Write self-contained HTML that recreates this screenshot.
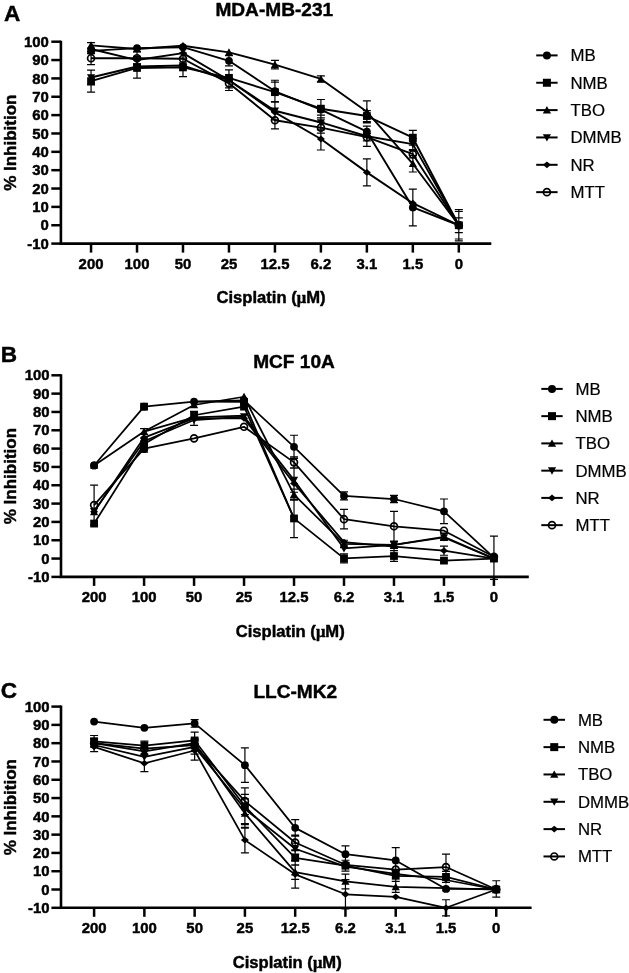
<!DOCTYPE html>
<html><head><meta charset="utf-8"><title>Figure</title>
<style>html,body{margin:0;padding:0;background:#fff}svg{display:block}</style></head>
<body>
<svg width="629" height="973" viewBox="0 0 629 973" font-family='"Liberation Sans", Arial, Helvetica, sans-serif' fill="#000"><style>text{stroke:#000;stroke-width:0.45px;stroke-linejoin:round}text.lg{stroke-width:0.2px}</style>
<text x="4.0" y="20.6" font-size="22.6" font-weight="bold">A</text>
<text x="274.3" y="16.2" font-size="19.1" font-weight="bold" text-anchor="middle">MDA-MB-231</text>
<path d="M60.9 40.7 V243.6 H491.3" fill="none" stroke="#000" stroke-width="2.6" stroke-linejoin="miter"/>
<line x1="51.3" y1="243.60" x2="60.9" y2="243.60" stroke="#000" stroke-width="2.5"/>
<text x="48.9" y="248.75" font-size="14.9" font-weight="bold" text-anchor="end">-10</text>
<line x1="51.3" y1="225.25" x2="60.9" y2="225.25" stroke="#000" stroke-width="2.5"/>
<text x="48.9" y="230.40" font-size="14.9" font-weight="bold" text-anchor="end">0</text>
<line x1="51.3" y1="206.89" x2="60.9" y2="206.89" stroke="#000" stroke-width="2.5"/>
<text x="48.9" y="212.04" font-size="14.9" font-weight="bold" text-anchor="end">10</text>
<line x1="51.3" y1="188.54" x2="60.9" y2="188.54" stroke="#000" stroke-width="2.5"/>
<text x="48.9" y="193.69" font-size="14.9" font-weight="bold" text-anchor="end">20</text>
<line x1="51.3" y1="170.18" x2="60.9" y2="170.18" stroke="#000" stroke-width="2.5"/>
<text x="48.9" y="175.33" font-size="14.9" font-weight="bold" text-anchor="end">30</text>
<line x1="51.3" y1="151.83" x2="60.9" y2="151.83" stroke="#000" stroke-width="2.5"/>
<text x="48.9" y="156.98" font-size="14.9" font-weight="bold" text-anchor="end">40</text>
<line x1="51.3" y1="133.47" x2="60.9" y2="133.47" stroke="#000" stroke-width="2.5"/>
<text x="48.9" y="138.62" font-size="14.9" font-weight="bold" text-anchor="end">50</text>
<line x1="51.3" y1="115.12" x2="60.9" y2="115.12" stroke="#000" stroke-width="2.5"/>
<text x="48.9" y="120.27" font-size="14.9" font-weight="bold" text-anchor="end">60</text>
<line x1="51.3" y1="96.76" x2="60.9" y2="96.76" stroke="#000" stroke-width="2.5"/>
<text x="48.9" y="101.91" font-size="14.9" font-weight="bold" text-anchor="end">70</text>
<line x1="51.3" y1="78.41" x2="60.9" y2="78.41" stroke="#000" stroke-width="2.5"/>
<text x="48.9" y="83.56" font-size="14.9" font-weight="bold" text-anchor="end">80</text>
<line x1="51.3" y1="60.05" x2="60.9" y2="60.05" stroke="#000" stroke-width="2.5"/>
<text x="48.9" y="65.20" font-size="14.9" font-weight="bold" text-anchor="end">90</text>
<line x1="51.3" y1="41.70" x2="60.9" y2="41.70" stroke="#000" stroke-width="2.5"/>
<text x="48.9" y="46.85" font-size="14.9" font-weight="bold" text-anchor="end">100</text>
<line x1="91.05" y1="243.6" x2="91.05" y2="252.6" stroke="#000" stroke-width="2.5"/>
<text x="91.05" y="268.50" font-size="14.9" font-weight="bold" text-anchor="middle">200</text>
<line x1="137.02" y1="243.6" x2="137.02" y2="252.6" stroke="#000" stroke-width="2.5"/>
<text x="137.02" y="268.50" font-size="14.9" font-weight="bold" text-anchor="middle">100</text>
<line x1="182.99" y1="243.6" x2="182.99" y2="252.6" stroke="#000" stroke-width="2.5"/>
<text x="182.99" y="268.50" font-size="14.9" font-weight="bold" text-anchor="middle">50</text>
<line x1="228.96" y1="243.6" x2="228.96" y2="252.6" stroke="#000" stroke-width="2.5"/>
<text x="228.96" y="268.50" font-size="14.9" font-weight="bold" text-anchor="middle">25</text>
<line x1="274.93" y1="243.6" x2="274.93" y2="252.6" stroke="#000" stroke-width="2.5"/>
<text x="274.93" y="268.50" font-size="14.9" font-weight="bold" text-anchor="middle">12.5</text>
<line x1="320.90" y1="243.6" x2="320.90" y2="252.6" stroke="#000" stroke-width="2.5"/>
<text x="320.90" y="268.50" font-size="14.9" font-weight="bold" text-anchor="middle">6.2</text>
<line x1="366.87" y1="243.6" x2="366.87" y2="252.6" stroke="#000" stroke-width="2.5"/>
<text x="366.87" y="268.50" font-size="14.9" font-weight="bold" text-anchor="middle">3.1</text>
<line x1="412.84" y1="243.6" x2="412.84" y2="252.6" stroke="#000" stroke-width="2.5"/>
<text x="412.84" y="268.50" font-size="14.9" font-weight="bold" text-anchor="middle">1.5</text>
<line x1="458.81" y1="243.6" x2="458.81" y2="252.6" stroke="#000" stroke-width="2.5"/>
<text x="458.81" y="268.50" font-size="14.9" font-weight="bold" text-anchor="middle">0</text>
<text transform="translate(16,142.7) rotate(-90)" font-size="17" font-weight="bold" text-anchor="middle">% Inhibition</text>
<text x="271" y="303.4" font-size="16.6" font-weight="bold" text-anchor="middle">Cisplatin (<tspan font-family="'Liberation Serif', serif">μ</tspan>M)</text>
<path d="M91.05 48.12V53.63M87.05 48.12h8M87.05 53.63h8M228.96 55.65V65.93M224.96 55.65h8M224.96 65.93h8M274.93 80.24V102.27M270.93 80.24h8M270.93 102.27h8M366.87 126.13V137.14M362.87 126.13h8M362.87 137.14h8M412.84 189.09V225.80M408.84 189.09h8M408.84 225.80h8M458.81 209.64V240.85M454.81 209.64h8M454.81 240.85h8M91.05 70.15V92.17M87.05 70.15h8M87.05 92.17h8M137.02 57.85V78.04M133.02 57.85h8M133.02 78.04h8M182.99 58.22V76.57M178.99 58.22h8M178.99 76.57h8M274.93 82.08V102.27M270.93 82.08h8M270.93 102.27h8M320.90 99.52V117.87M316.90 99.52h8M316.90 117.87h8M366.87 110.53V121.54M362.87 110.53h8M362.87 121.54h8M412.84 130.35V145.04M408.84 130.35h8M408.84 145.04h8M458.81 211.48V239.01M454.81 211.48h8M454.81 239.01h8M91.05 42.62V48.12M87.05 42.62h8M87.05 48.12h8M274.93 60.42V68.86M270.93 60.42h8M270.93 68.86h8M320.90 75.84V82.08M316.90 75.84h8M316.90 82.08h8M366.87 100.80V122.83M362.87 100.80h8M362.87 122.83h8M412.84 155.50V172.02M408.84 155.50h8M408.84 172.02h8M458.81 217.90V232.59M454.81 217.90h8M454.81 232.59h8M91.05 70.15V84.83M87.05 70.15h8M87.05 84.83h8M228.96 69.97V90.52M224.96 69.97h8M224.96 90.52h8M274.93 101.54V119.89M270.93 101.54h8M270.93 119.89h8M320.90 115.12V129.80M316.90 115.12h8M316.90 129.80h8M366.87 126.13V146.32M362.87 126.13h8M362.87 146.32h8M412.84 138.61V149.62M408.84 138.61h8M408.84 149.62h8M137.02 56.38V63.73M133.02 56.38h8M133.02 63.73h8M320.90 127.97V149.99M316.90 127.97h8M316.90 149.99h8M366.87 158.80V185.97M362.87 158.80h8M362.87 185.97h8M91.05 51.80V64.64M87.05 51.80h8M87.05 64.64h8M137.02 51.80V64.64M133.02 51.80h8M133.02 64.64h8M182.99 53.26V64.28M178.99 53.26h8M178.99 64.28h8M228.96 78.78V87.95M224.96 78.78h8M224.96 87.95h8M274.93 111.63V128.88M270.93 111.63h8M270.93 128.88h8M320.90 122.09V133.11M316.90 122.09h8M316.90 133.11h8M366.87 133.47V140.81M362.87 133.47h8M362.87 140.81h8M412.84 150.54V157.88M408.84 150.54h8M408.84 157.88h8" fill="none" stroke="#000" stroke-width="1.2"/>
<polyline points="91.05,50.88 137.02,48.12 182.99,47.21 228.96,60.79 274.93,91.26 320.90,109.61 366.87,131.64 412.84,207.44 458.81,225.25" fill="none" stroke="#000" stroke-width="1.9" stroke-linejoin="round"/>
<polyline points="91.05,81.16 137.02,67.95 182.99,67.40 228.96,77.86 274.93,92.17 320.90,108.69 366.87,116.04 412.84,137.69 458.81,225.25" fill="none" stroke="#000" stroke-width="1.9" stroke-linejoin="round"/>
<polyline points="91.05,45.37 137.02,49.04 182.99,45.74 228.96,52.35 274.93,64.64 320.90,78.96 366.87,111.81 412.84,163.76 458.81,225.25" fill="none" stroke="#000" stroke-width="1.9" stroke-linejoin="round"/>
<polyline points="91.05,77.49 137.02,66.48 182.99,65.56 228.96,80.24 274.93,110.71 320.90,122.46 366.87,136.23 412.84,144.12 458.81,225.25" fill="none" stroke="#000" stroke-width="1.9" stroke-linejoin="round"/>
<polyline points="91.05,49.04 137.02,60.05 182.99,53.08 228.96,80.24 274.93,112.36 320.90,138.98 366.87,172.38 412.84,203.22 458.81,225.25" fill="none" stroke="#000" stroke-width="1.9" stroke-linejoin="round"/>
<polyline points="91.05,58.22 137.02,58.22 182.99,58.77 228.96,83.36 274.93,120.26 320.90,127.60 366.87,137.14 412.84,154.21 458.81,225.25" fill="none" stroke="#000" stroke-width="1.9" stroke-linejoin="round"/>
<circle cx="91.05" cy="58.22" r="3.45" fill="none" stroke="#000" stroke-width="1.7"/>
<circle cx="137.02" cy="58.22" r="3.45" fill="none" stroke="#000" stroke-width="1.7"/>
<circle cx="182.99" cy="58.77" r="3.45" fill="none" stroke="#000" stroke-width="1.7"/>
<circle cx="228.96" cy="83.36" r="3.45" fill="none" stroke="#000" stroke-width="1.7"/>
<circle cx="274.93" cy="120.26" r="3.45" fill="none" stroke="#000" stroke-width="1.7"/>
<circle cx="320.90" cy="127.60" r="3.45" fill="none" stroke="#000" stroke-width="1.7"/>
<circle cx="366.87" cy="137.14" r="3.45" fill="none" stroke="#000" stroke-width="1.7"/>
<circle cx="412.84" cy="154.21" r="3.45" fill="none" stroke="#000" stroke-width="1.7"/>
<circle cx="458.81" cy="225.25" r="3.45" fill="none" stroke="#000" stroke-width="1.7"/>
<polygon points="91.05,45.64 95.05,49.04 91.05,52.44 87.05,49.04" fill="#000"/>
<polygon points="137.02,56.65 141.02,60.05 137.02,63.45 133.02,60.05" fill="#000"/>
<polygon points="182.99,49.68 186.99,53.08 182.99,56.48 178.99,53.08" fill="#000"/>
<polygon points="228.96,76.84 232.96,80.24 228.96,83.64 224.96,80.24" fill="#000"/>
<polygon points="274.93,108.96 278.93,112.36 274.93,115.77 270.93,112.36" fill="#000"/>
<polygon points="320.90,135.58 324.90,138.98 320.90,142.38 316.90,138.98" fill="#000"/>
<polygon points="366.87,168.98 370.87,172.38 366.87,175.78 362.87,172.38" fill="#000"/>
<polygon points="412.84,199.82 416.84,203.22 412.84,206.62 408.84,203.22" fill="#000"/>
<polygon points="458.81,221.85 462.81,225.25 458.81,228.65 454.81,225.25" fill="#000"/>
<polygon points="91.05,81.49 95.15,74.19 86.95,74.19" fill="#000"/>
<polygon points="137.02,70.48 141.12,63.18 132.92,63.18" fill="#000"/>
<polygon points="182.99,69.56 187.09,62.26 178.89,62.26" fill="#000"/>
<polygon points="228.96,84.24 233.06,76.94 224.86,76.94" fill="#000"/>
<polygon points="274.93,114.71 279.03,107.41 270.83,107.41" fill="#000"/>
<polygon points="320.90,126.46 325.00,119.16 316.80,119.16" fill="#000"/>
<polygon points="366.87,140.23 370.97,132.93 362.77,132.93" fill="#000"/>
<polygon points="412.84,148.12 416.94,140.82 408.74,140.82" fill="#000"/>
<polygon points="458.81,229.25 462.91,221.95 454.71,221.95" fill="#000"/>
<polygon points="91.05,41.37 95.15,48.67 86.95,48.67" fill="#000"/>
<polygon points="137.02,45.04 141.12,52.34 132.92,52.34" fill="#000"/>
<polygon points="182.99,41.74 187.09,49.04 178.89,49.04" fill="#000"/>
<polygon points="228.96,48.35 233.06,55.65 224.86,55.65" fill="#000"/>
<polygon points="274.93,60.64 279.03,67.94 270.83,67.94" fill="#000"/>
<polygon points="320.90,74.96 325.00,82.26 316.80,82.26" fill="#000"/>
<polygon points="366.87,107.81 370.97,115.11 362.77,115.11" fill="#000"/>
<polygon points="412.84,159.76 416.94,167.06 408.74,167.06" fill="#000"/>
<polygon points="458.81,221.25 462.91,228.55 454.71,228.55" fill="#000"/>
<rect x="87.15" y="77.26" width="7.80" height="7.80" fill="#000"/>
<rect x="133.12" y="64.05" width="7.80" height="7.80" fill="#000"/>
<rect x="179.09" y="63.50" width="7.80" height="7.80" fill="#000"/>
<rect x="225.06" y="73.96" width="7.80" height="7.80" fill="#000"/>
<rect x="271.03" y="88.27" width="7.80" height="7.80" fill="#000"/>
<rect x="317.00" y="104.79" width="7.80" height="7.80" fill="#000"/>
<rect x="362.97" y="112.14" width="7.80" height="7.80" fill="#000"/>
<rect x="408.94" y="133.79" width="7.80" height="7.80" fill="#000"/>
<rect x="454.91" y="221.35" width="7.80" height="7.80" fill="#000"/>
<circle cx="91.05" cy="50.88" r="3.90" fill="#000"/>
<circle cx="137.02" cy="48.12" r="3.90" fill="#000"/>
<circle cx="182.99" cy="47.21" r="3.90" fill="#000"/>
<circle cx="228.96" cy="60.79" r="3.90" fill="#000"/>
<circle cx="274.93" cy="91.26" r="3.90" fill="#000"/>
<circle cx="320.90" cy="109.61" r="3.90" fill="#000"/>
<circle cx="366.87" cy="131.64" r="3.90" fill="#000"/>
<circle cx="412.84" cy="207.44" r="3.90" fill="#000"/>
<circle cx="458.81" cy="225.25" r="3.90" fill="#000"/>
<line x1="536.2" y1="55.40" x2="557.6" y2="55.40" stroke="#000" stroke-width="2"/>
<circle cx="546.90" cy="55.40" r="4.00" fill="#000"/>
<text class="lg" x="570.5" y="61.40" font-size="16.8">MB</text>
<line x1="536.2" y1="82.75" x2="557.6" y2="82.75" stroke="#000" stroke-width="2"/>
<rect x="542.90" y="78.75" width="8.00" height="8.00" fill="#000"/>
<text class="lg" x="570.5" y="88.75" font-size="16.8">NMB</text>
<line x1="536.2" y1="110.10" x2="557.6" y2="110.10" stroke="#000" stroke-width="2"/>
<polygon points="546.90,106.10 551.00,113.40 542.80,113.40" fill="#000"/>
<text class="lg" x="570.5" y="116.10" font-size="16.8">TBO</text>
<line x1="536.2" y1="137.45" x2="557.6" y2="137.45" stroke="#000" stroke-width="2"/>
<polygon points="546.90,141.45 551.00,134.15 542.80,134.15" fill="#000"/>
<text class="lg" x="570.5" y="143.45" font-size="16.8">DMMB</text>
<line x1="536.2" y1="164.80" x2="557.6" y2="164.80" stroke="#000" stroke-width="2"/>
<polygon points="546.90,161.40 550.90,164.80 546.90,168.20 542.90,164.80" fill="#000"/>
<text class="lg" x="570.5" y="170.80" font-size="16.8">NR</text>
<line x1="536.2" y1="192.15" x2="557.6" y2="192.15" stroke="#000" stroke-width="2"/>
<circle cx="546.90" cy="192.15" r="3.45" fill="none" stroke="#000" stroke-width="1.7"/>
<text class="lg" x="570.5" y="198.15" font-size="16.8">MTT</text>
<text x="0.8" y="362" font-size="22.6" font-weight="bold">B</text>
<text x="294" y="368" font-size="19.1" font-weight="bold" text-anchor="middle">MCF 10A</text>
<path d="M61 374.3 V576.9 H528.8" fill="none" stroke="#000" stroke-width="2.6" stroke-linejoin="miter"/>
<line x1="51.4" y1="576.90" x2="61" y2="576.90" stroke="#000" stroke-width="2.5"/>
<text x="49.6" y="582.05" font-size="14.9" font-weight="bold" text-anchor="end">-10</text>
<line x1="51.4" y1="558.57" x2="61" y2="558.57" stroke="#000" stroke-width="2.5"/>
<text x="49.6" y="563.72" font-size="14.9" font-weight="bold" text-anchor="end">0</text>
<line x1="51.4" y1="540.25" x2="61" y2="540.25" stroke="#000" stroke-width="2.5"/>
<text x="49.6" y="545.40" font-size="14.9" font-weight="bold" text-anchor="end">10</text>
<line x1="51.4" y1="521.92" x2="61" y2="521.92" stroke="#000" stroke-width="2.5"/>
<text x="49.6" y="527.07" font-size="14.9" font-weight="bold" text-anchor="end">20</text>
<line x1="51.4" y1="503.59" x2="61" y2="503.59" stroke="#000" stroke-width="2.5"/>
<text x="49.6" y="508.74" font-size="14.9" font-weight="bold" text-anchor="end">30</text>
<line x1="51.4" y1="485.26" x2="61" y2="485.26" stroke="#000" stroke-width="2.5"/>
<text x="49.6" y="490.41" font-size="14.9" font-weight="bold" text-anchor="end">40</text>
<line x1="51.4" y1="466.94" x2="61" y2="466.94" stroke="#000" stroke-width="2.5"/>
<text x="49.6" y="472.09" font-size="14.9" font-weight="bold" text-anchor="end">50</text>
<line x1="51.4" y1="448.61" x2="61" y2="448.61" stroke="#000" stroke-width="2.5"/>
<text x="49.6" y="453.76" font-size="14.9" font-weight="bold" text-anchor="end">60</text>
<line x1="51.4" y1="430.28" x2="61" y2="430.28" stroke="#000" stroke-width="2.5"/>
<text x="49.6" y="435.43" font-size="14.9" font-weight="bold" text-anchor="end">70</text>
<line x1="51.4" y1="411.95" x2="61" y2="411.95" stroke="#000" stroke-width="2.5"/>
<text x="49.6" y="417.10" font-size="14.9" font-weight="bold" text-anchor="end">80</text>
<line x1="51.4" y1="393.63" x2="61" y2="393.63" stroke="#000" stroke-width="2.5"/>
<text x="49.6" y="398.78" font-size="14.9" font-weight="bold" text-anchor="end">90</text>
<line x1="51.4" y1="375.30" x2="61" y2="375.30" stroke="#000" stroke-width="2.5"/>
<text x="49.6" y="380.45" font-size="14.9" font-weight="bold" text-anchor="end">100</text>
<line x1="94.10" y1="576.9" x2="94.10" y2="585.9" stroke="#000" stroke-width="2.5"/>
<text x="94.10" y="601.80" font-size="14.9" font-weight="bold" text-anchor="middle">200</text>
<line x1="144.08" y1="576.9" x2="144.08" y2="585.9" stroke="#000" stroke-width="2.5"/>
<text x="144.08" y="601.80" font-size="14.9" font-weight="bold" text-anchor="middle">100</text>
<line x1="194.06" y1="576.9" x2="194.06" y2="585.9" stroke="#000" stroke-width="2.5"/>
<text x="194.06" y="601.80" font-size="14.9" font-weight="bold" text-anchor="middle">50</text>
<line x1="244.04" y1="576.9" x2="244.04" y2="585.9" stroke="#000" stroke-width="2.5"/>
<text x="244.04" y="601.80" font-size="14.9" font-weight="bold" text-anchor="middle">25</text>
<line x1="294.02" y1="576.9" x2="294.02" y2="585.9" stroke="#000" stroke-width="2.5"/>
<text x="294.02" y="601.80" font-size="14.9" font-weight="bold" text-anchor="middle">12.5</text>
<line x1="344.00" y1="576.9" x2="344.00" y2="585.9" stroke="#000" stroke-width="2.5"/>
<text x="344.00" y="601.80" font-size="14.9" font-weight="bold" text-anchor="middle">6.2</text>
<line x1="393.98" y1="576.9" x2="393.98" y2="585.9" stroke="#000" stroke-width="2.5"/>
<text x="393.98" y="601.80" font-size="14.9" font-weight="bold" text-anchor="middle">3.1</text>
<line x1="443.96" y1="576.9" x2="443.96" y2="585.9" stroke="#000" stroke-width="2.5"/>
<text x="443.96" y="601.80" font-size="14.9" font-weight="bold" text-anchor="middle">1.5</text>
<line x1="493.94" y1="576.9" x2="493.94" y2="585.9" stroke="#000" stroke-width="2.5"/>
<text x="493.94" y="601.80" font-size="14.9" font-weight="bold" text-anchor="middle">0</text>
<text transform="translate(16,476.1) rotate(-90)" font-size="17" font-weight="bold" text-anchor="middle">% Inhibition</text>
<text x="290.2" y="636.7" font-size="16.6" font-weight="bold" text-anchor="middle">Cisplatin (<tspan font-family="'Liberation Serif', serif">μ</tspan>M)</text>
<path d="M294.02 435.23V458.32M290.02 435.23h8M290.02 458.32h8M344.00 491.86V499.93M340.00 491.86h8M340.00 499.93h8M393.98 495.34V502.67M389.98 495.34h8M389.98 502.67h8M443.96 499.01V523.57M439.96 499.01h8M439.96 523.57h8M493.94 536.03V579.28M489.94 536.03h8M489.94 579.28h8M294.02 499.19V537.68M290.02 499.19h8M290.02 537.68h8M344.00 553.81V562.97M340.00 553.81h8M340.00 562.97h8M393.98 550.69V561.32M389.98 550.69h8M389.98 561.32h8M144.08 428.63V434.50M140.08 428.63h8M140.08 434.50h8M294.02 489.11V500.11M290.02 489.11h8M290.02 500.11h8M344.00 540.25V547.58M340.00 540.25h8M340.00 547.58h8M393.98 541.16V548.49M389.98 541.16h8M389.98 548.49h8M443.96 533.10V540.43M439.96 533.10h8M439.96 540.43h8M294.02 468.04V492.23M290.02 468.04h8M290.02 492.23h8M194.06 411.40V425.33M190.06 411.40h8M190.06 425.33h8M443.96 546.11V555.27M439.96 546.11h8M439.96 555.27h8M94.10 485.08V525.03M90.10 485.08h8M90.10 525.03h8M144.08 444.94V452.27M140.08 444.94h8M140.08 452.27h8M294.02 456.86V467.85M290.02 456.86h8M290.02 467.85h8M344.00 509.46V528.88M340.00 509.46h8M340.00 528.88h8M393.98 511.29V541.35M389.98 511.29h8M389.98 541.35h8" fill="none" stroke="#000" stroke-width="1.2"/>
<polyline points="94.10,465.47 144.08,406.64 194.06,401.69 244.04,400.41 294.02,446.78 344.00,495.89 393.98,499.01 443.96,511.29 493.94,557.66" fill="none" stroke="#000" stroke-width="1.75" stroke-linejoin="round"/>
<polyline points="94.10,523.57 144.08,444.03 194.06,415.25 244.04,406.64 294.02,518.44 344.00,558.39 393.98,556.01 443.96,560.59 493.94,558.57" fill="none" stroke="#000" stroke-width="1.75" stroke-linejoin="round"/>
<polyline points="94.10,465.47 144.08,431.56 194.06,404.99 244.04,396.74 294.02,494.61 344.00,543.91 393.98,544.83 443.96,536.76 493.94,558.57" fill="none" stroke="#000" stroke-width="1.75" stroke-linejoin="round"/>
<polyline points="94.10,511.29 144.08,441.28 194.06,420.02 244.04,416.54 294.02,480.13 344.00,548.49 393.98,544.83 443.96,537.50 493.94,558.57" fill="none" stroke="#000" stroke-width="1.75" stroke-linejoin="round"/>
<polyline points="94.10,511.84 144.08,437.61 194.06,418.37 244.04,418.37 294.02,483.43 344.00,542.08 393.98,546.66 443.96,550.69 493.94,558.57" fill="none" stroke="#000" stroke-width="1.75" stroke-linejoin="round"/>
<polyline points="94.10,505.06 144.08,448.61 194.06,438.35 244.04,426.80 294.02,462.35 344.00,519.17 393.98,526.32 443.96,530.72 493.94,556.74" fill="none" stroke="#000" stroke-width="1.75" stroke-linejoin="round"/>
<polyline points="144.08,431.56 194.06,417.45 244.04,415.62" fill="none" stroke="#000" stroke-width="1.75"/>
<polyline points="194.06,401.69 244.04,401.87 294.02,518.44" fill="none" stroke="#000" stroke-width="1.75"/>
<circle cx="94.10" cy="505.06" r="3.45" fill="none" stroke="#000" stroke-width="1.7"/>
<circle cx="144.08" cy="448.61" r="3.45" fill="none" stroke="#000" stroke-width="1.7"/>
<circle cx="194.06" cy="438.35" r="3.45" fill="none" stroke="#000" stroke-width="1.7"/>
<circle cx="244.04" cy="426.80" r="3.45" fill="none" stroke="#000" stroke-width="1.7"/>
<circle cx="294.02" cy="462.35" r="3.45" fill="none" stroke="#000" stroke-width="1.7"/>
<circle cx="344.00" cy="519.17" r="3.45" fill="none" stroke="#000" stroke-width="1.7"/>
<circle cx="393.98" cy="526.32" r="3.45" fill="none" stroke="#000" stroke-width="1.7"/>
<circle cx="443.96" cy="530.72" r="3.45" fill="none" stroke="#000" stroke-width="1.7"/>
<circle cx="493.94" cy="556.74" r="3.45" fill="none" stroke="#000" stroke-width="1.7"/>
<polygon points="94.10,508.44 98.10,511.84 94.10,515.24 90.10,511.84" fill="#000"/>
<polygon points="144.08,434.21 148.08,437.61 144.08,441.01 140.08,437.61" fill="#000"/>
<polygon points="194.06,414.97 198.06,418.37 194.06,421.77 190.06,418.37" fill="#000"/>
<polygon points="244.04,414.97 248.04,418.37 244.04,421.77 240.04,418.37" fill="#000"/>
<polygon points="294.02,480.03 298.02,483.43 294.02,486.83 290.02,483.43" fill="#000"/>
<polygon points="344.00,538.68 348.00,542.08 344.00,545.48 340.00,542.08" fill="#000"/>
<polygon points="393.98,543.26 397.98,546.66 393.98,550.06 389.98,546.66" fill="#000"/>
<polygon points="443.96,547.29 447.96,550.69 443.96,554.09 439.96,550.69" fill="#000"/>
<polygon points="493.94,555.17 497.94,558.57 493.94,561.97 489.94,558.57" fill="#000"/>
<polygon points="94.10,515.29 98.20,507.99 90.00,507.99" fill="#000"/>
<polygon points="144.08,445.28 148.18,437.98 139.98,437.98" fill="#000"/>
<polygon points="194.06,424.02 198.16,416.72 189.96,416.72" fill="#000"/>
<polygon points="244.04,420.54 248.14,413.24 239.94,413.24" fill="#000"/>
<polygon points="294.02,484.13 298.12,476.83 289.92,476.83" fill="#000"/>
<polygon points="344.00,552.49 348.10,545.19 339.90,545.19" fill="#000"/>
<polygon points="393.98,548.83 398.08,541.53 389.88,541.53" fill="#000"/>
<polygon points="443.96,541.50 448.06,534.20 439.86,534.20" fill="#000"/>
<polygon points="493.94,562.57 498.04,555.27 489.84,555.27" fill="#000"/>
<polygon points="94.10,461.47 98.20,468.77 90.00,468.77" fill="#000"/>
<polygon points="144.08,427.56 148.18,434.86 139.98,434.86" fill="#000"/>
<polygon points="194.06,400.99 198.16,408.29 189.96,408.29" fill="#000"/>
<polygon points="244.04,392.74 248.14,400.04 239.94,400.04" fill="#000"/>
<polygon points="294.02,490.61 298.12,497.91 289.92,497.91" fill="#000"/>
<polygon points="344.00,539.91 348.10,547.21 339.90,547.21" fill="#000"/>
<polygon points="393.98,540.83 398.08,548.13 389.88,548.13" fill="#000"/>
<polygon points="443.96,532.76 448.06,540.06 439.86,540.06" fill="#000"/>
<polygon points="493.94,554.57 498.04,561.87 489.84,561.87" fill="#000"/>
<rect x="90.20" y="519.67" width="7.80" height="7.80" fill="#000"/>
<rect x="140.18" y="440.13" width="7.80" height="7.80" fill="#000"/>
<rect x="190.16" y="411.35" width="7.80" height="7.80" fill="#000"/>
<rect x="240.14" y="402.74" width="7.80" height="7.80" fill="#000"/>
<rect x="290.12" y="514.54" width="7.80" height="7.80" fill="#000"/>
<rect x="340.10" y="554.49" width="7.80" height="7.80" fill="#000"/>
<rect x="390.08" y="552.11" width="7.80" height="7.80" fill="#000"/>
<rect x="440.06" y="556.69" width="7.80" height="7.80" fill="#000"/>
<rect x="490.04" y="554.67" width="7.80" height="7.80" fill="#000"/>
<circle cx="94.10" cy="465.47" r="3.90" fill="#000"/>
<circle cx="144.08" cy="406.64" r="3.90" fill="#000"/>
<circle cx="194.06" cy="401.69" r="3.90" fill="#000"/>
<circle cx="244.04" cy="400.41" r="3.90" fill="#000"/>
<circle cx="294.02" cy="446.78" r="3.90" fill="#000"/>
<circle cx="344.00" cy="495.89" r="3.90" fill="#000"/>
<circle cx="393.98" cy="499.01" r="3.90" fill="#000"/>
<circle cx="443.96" cy="511.29" r="3.90" fill="#000"/>
<circle cx="493.94" cy="557.66" r="3.90" fill="#000"/>
<rect x="140.18" y="402.74" width="7.80" height="7.80" fill="#000"/>
<rect x="240.14" y="397.97" width="7.80" height="7.80" fill="#000"/>
<polygon points="94.10,507.84 98.20,515.14 90.00,515.14" fill="#000"/>
<circle cx="94.10" cy="465.47" r="3.90" fill="#000"/>
<rect x="140.18" y="443.79" width="7.80" height="7.80" fill="#000"/>
<line x1="541.3" y1="388.90" x2="562.7" y2="388.90" stroke="#000" stroke-width="2"/>
<circle cx="552.00" cy="388.90" r="4.00" fill="#000"/>
<text class="lg" x="575.5" y="394.90" font-size="16.8">MB</text>
<line x1="541.3" y1="416.15" x2="562.7" y2="416.15" stroke="#000" stroke-width="2"/>
<rect x="548.00" y="412.15" width="8.00" height="8.00" fill="#000"/>
<text class="lg" x="575.5" y="422.15" font-size="16.8">NMB</text>
<line x1="541.3" y1="443.40" x2="562.7" y2="443.40" stroke="#000" stroke-width="2"/>
<polygon points="552.00,439.40 556.10,446.70 547.90,446.70" fill="#000"/>
<text class="lg" x="575.5" y="449.40" font-size="16.8">TBO</text>
<line x1="541.3" y1="470.65" x2="562.7" y2="470.65" stroke="#000" stroke-width="2"/>
<polygon points="552.00,474.65 556.10,467.35 547.90,467.35" fill="#000"/>
<text class="lg" x="575.5" y="476.65" font-size="16.8">DMMB</text>
<line x1="541.3" y1="497.90" x2="562.7" y2="497.90" stroke="#000" stroke-width="2"/>
<polygon points="552.00,494.50 556.00,497.90 552.00,501.30 548.00,497.90" fill="#000"/>
<text class="lg" x="575.5" y="503.90" font-size="16.8">NR</text>
<line x1="541.3" y1="525.15" x2="562.7" y2="525.15" stroke="#000" stroke-width="2"/>
<circle cx="552.00" cy="525.15" r="3.45" fill="none" stroke="#000" stroke-width="1.7"/>
<text class="lg" x="575.5" y="531.15" font-size="16.8">MTT</text>
<text x="0.7" y="697.7" font-size="22.6" font-weight="bold">C</text>
<text x="295.3" y="698.2" font-size="19.1" font-weight="bold" text-anchor="middle">LLC-MK2</text>
<path d="M61 705.6 V907.8 H531.6" fill="none" stroke="#000" stroke-width="2.6" stroke-linejoin="miter"/>
<line x1="51.4" y1="907.80" x2="61" y2="907.80" stroke="#000" stroke-width="2.5"/>
<text x="49.6" y="912.95" font-size="14.9" font-weight="bold" text-anchor="end">-10</text>
<line x1="51.4" y1="889.51" x2="61" y2="889.51" stroke="#000" stroke-width="2.5"/>
<text x="49.6" y="894.66" font-size="14.9" font-weight="bold" text-anchor="end">0</text>
<line x1="51.4" y1="871.22" x2="61" y2="871.22" stroke="#000" stroke-width="2.5"/>
<text x="49.6" y="876.37" font-size="14.9" font-weight="bold" text-anchor="end">10</text>
<line x1="51.4" y1="852.93" x2="61" y2="852.93" stroke="#000" stroke-width="2.5"/>
<text x="49.6" y="858.08" font-size="14.9" font-weight="bold" text-anchor="end">20</text>
<line x1="51.4" y1="834.64" x2="61" y2="834.64" stroke="#000" stroke-width="2.5"/>
<text x="49.6" y="839.79" font-size="14.9" font-weight="bold" text-anchor="end">30</text>
<line x1="51.4" y1="816.35" x2="61" y2="816.35" stroke="#000" stroke-width="2.5"/>
<text x="49.6" y="821.50" font-size="14.9" font-weight="bold" text-anchor="end">40</text>
<line x1="51.4" y1="798.05" x2="61" y2="798.05" stroke="#000" stroke-width="2.5"/>
<text x="49.6" y="803.20" font-size="14.9" font-weight="bold" text-anchor="end">50</text>
<line x1="51.4" y1="779.76" x2="61" y2="779.76" stroke="#000" stroke-width="2.5"/>
<text x="49.6" y="784.91" font-size="14.9" font-weight="bold" text-anchor="end">60</text>
<line x1="51.4" y1="761.47" x2="61" y2="761.47" stroke="#000" stroke-width="2.5"/>
<text x="49.6" y="766.62" font-size="14.9" font-weight="bold" text-anchor="end">70</text>
<line x1="51.4" y1="743.18" x2="61" y2="743.18" stroke="#000" stroke-width="2.5"/>
<text x="49.6" y="748.33" font-size="14.9" font-weight="bold" text-anchor="end">80</text>
<line x1="51.4" y1="724.89" x2="61" y2="724.89" stroke="#000" stroke-width="2.5"/>
<text x="49.6" y="730.04" font-size="14.9" font-weight="bold" text-anchor="end">90</text>
<line x1="51.4" y1="706.60" x2="61" y2="706.60" stroke="#000" stroke-width="2.5"/>
<text x="49.6" y="711.75" font-size="14.9" font-weight="bold" text-anchor="end">100</text>
<line x1="94.10" y1="907.8" x2="94.10" y2="916.8" stroke="#000" stroke-width="2.5"/>
<text x="94.10" y="932.70" font-size="14.9" font-weight="bold" text-anchor="middle">200</text>
<line x1="144.37" y1="907.8" x2="144.37" y2="916.8" stroke="#000" stroke-width="2.5"/>
<text x="144.37" y="932.70" font-size="14.9" font-weight="bold" text-anchor="middle">100</text>
<line x1="194.64" y1="907.8" x2="194.64" y2="916.8" stroke="#000" stroke-width="2.5"/>
<text x="194.64" y="932.70" font-size="14.9" font-weight="bold" text-anchor="middle">50</text>
<line x1="244.91" y1="907.8" x2="244.91" y2="916.8" stroke="#000" stroke-width="2.5"/>
<text x="244.91" y="932.70" font-size="14.9" font-weight="bold" text-anchor="middle">25</text>
<line x1="295.18" y1="907.8" x2="295.18" y2="916.8" stroke="#000" stroke-width="2.5"/>
<text x="295.18" y="932.70" font-size="14.9" font-weight="bold" text-anchor="middle">12.5</text>
<line x1="345.45" y1="907.8" x2="345.45" y2="916.8" stroke="#000" stroke-width="2.5"/>
<text x="345.45" y="932.70" font-size="14.9" font-weight="bold" text-anchor="middle">6.2</text>
<line x1="395.72" y1="907.8" x2="395.72" y2="916.8" stroke="#000" stroke-width="2.5"/>
<text x="395.72" y="932.70" font-size="14.9" font-weight="bold" text-anchor="middle">3.1</text>
<line x1="445.99" y1="907.8" x2="445.99" y2="916.8" stroke="#000" stroke-width="2.5"/>
<text x="445.99" y="932.70" font-size="14.9" font-weight="bold" text-anchor="middle">1.5</text>
<line x1="496.26" y1="907.8" x2="496.26" y2="916.8" stroke="#000" stroke-width="2.5"/>
<text x="496.26" y="932.70" font-size="14.9" font-weight="bold" text-anchor="middle">0</text>
<text transform="translate(16,807.2) rotate(-90)" font-size="17" font-weight="bold" text-anchor="middle">% Inhibition</text>
<text x="287.2" y="967.6" font-size="16.6" font-weight="bold" text-anchor="middle">Cisplatin (<tspan font-family="'Liberation Serif', serif">μ</tspan>M)</text>
<path d="M194.64 719.59V727.27M190.64 719.59h8M190.64 727.27h8M244.91 747.94V782.32M240.91 747.94h8M240.91 782.32h8M295.18 819.64V836.10M291.18 819.64h8M291.18 836.10h8M345.45 845.79V862.62M341.45 845.79h8M341.45 862.62h8M395.72 847.62V873.23M391.72 847.62h8M391.72 873.23h8M496.26 880.73V897.19M492.26 880.73h8M492.26 897.19h8M94.10 735.50V747.21M90.10 735.50h8M90.10 747.21h8M144.37 741.17V749.95M140.37 741.17h8M140.37 749.95h8M194.64 732.21V748.67M190.64 732.21h8M190.64 748.67h8M244.91 787.99V824.58M240.91 787.99h8M240.91 824.58h8M295.18 850.55V865.18M291.18 850.55h8M291.18 865.18h8M345.45 860.24V871.22M341.45 860.24h8M341.45 871.22h8M395.72 870.30V881.28M391.72 870.30h8M391.72 881.28h8M445.99 871.40V882.38M441.99 871.40h8M441.99 882.38h8M94.10 739.52V746.84M90.10 739.52h8M90.10 746.84h8M194.64 738.79V747.57M190.64 738.79h8M190.64 747.57h8M244.91 798.79V828.05M240.91 798.79h8M240.91 828.05h8M295.18 864.82V879.45M291.18 864.82h8M291.18 879.45h8M345.45 874.14V888.78M341.45 874.14h8M341.45 888.78h8M395.72 881.46V892.44M391.72 881.46h8M391.72 892.44h8M94.10 738.43V751.60M90.10 738.43h8M90.10 751.60h8M194.64 739.52V754.16M190.64 739.52h8M190.64 754.16h8M244.91 794.40V823.66M240.91 794.40h8M240.91 823.66h8M295.18 843.23V854.21M291.18 843.23h8M291.18 854.21h8M144.37 754.89V771.72M140.37 754.89h8M140.37 771.72h8M194.64 740.80V760.19M190.64 740.80h8M190.64 760.19h8M244.91 827.32V852.93M240.91 827.32h8M240.91 852.93h8M295.18 860.61V888.05M291.18 860.61h8M291.18 888.05h8M345.45 879.63V908.90M341.45 879.63h8M341.45 908.90h8M445.99 899.75V915.85M441.99 899.75h8M441.99 915.85h8M244.91 787.81V814.52M240.91 787.81h8M240.91 814.52h8M295.18 835.19V849.82M291.18 835.19h8M291.18 849.82h8M445.99 854.21V879.81M441.99 854.21h8M441.99 879.81h8" fill="none" stroke="#000" stroke-width="1.2"/>
<polyline points="94.10,721.60 144.37,727.82 194.64,723.43 244.91,765.13 295.18,827.87 345.45,854.21 395.72,860.43 445.99,888.96 496.26,888.96" fill="none" stroke="#000" stroke-width="1.75" stroke-linejoin="round"/>
<polyline points="94.10,741.35 144.37,745.56 194.64,740.44 244.91,806.29 295.18,857.87 345.45,865.73 395.72,875.79 445.99,876.89 496.26,889.51" fill="none" stroke="#000" stroke-width="1.75" stroke-linejoin="round"/>
<polyline points="94.10,743.18 144.37,751.41 194.64,743.18 244.91,813.42 295.18,872.13 345.45,881.46 395.72,886.95 445.99,888.05 496.26,889.51" fill="none" stroke="#000" stroke-width="1.75" stroke-linejoin="round"/>
<polyline points="94.10,745.01 144.37,756.90 194.64,746.84 244.91,809.03 295.18,848.72 345.45,866.65 395.72,873.96 445.99,880.00 496.26,889.51" fill="none" stroke="#000" stroke-width="1.75" stroke-linejoin="round"/>
<polyline points="94.10,746.84 144.37,763.30 194.64,750.50 244.91,840.12 295.18,874.33 345.45,894.26 395.72,896.83 445.99,907.80 496.26,889.51" fill="none" stroke="#000" stroke-width="1.75" stroke-linejoin="round"/>
<polyline points="94.10,743.18 144.37,748.67 194.64,745.01 244.91,801.16 295.18,842.50 345.45,864.82 395.72,869.57 445.99,867.01 496.26,889.51" fill="none" stroke="#000" stroke-width="1.75" stroke-linejoin="round"/>
<circle cx="94.10" cy="743.18" r="3.45" fill="none" stroke="#000" stroke-width="1.7"/>
<circle cx="144.37" cy="748.67" r="3.45" fill="none" stroke="#000" stroke-width="1.7"/>
<circle cx="194.64" cy="745.01" r="3.45" fill="none" stroke="#000" stroke-width="1.7"/>
<circle cx="244.91" cy="801.16" r="3.45" fill="none" stroke="#000" stroke-width="1.7"/>
<circle cx="295.18" cy="842.50" r="3.45" fill="none" stroke="#000" stroke-width="1.7"/>
<circle cx="345.45" cy="864.82" r="3.45" fill="none" stroke="#000" stroke-width="1.7"/>
<circle cx="395.72" cy="869.57" r="3.45" fill="none" stroke="#000" stroke-width="1.7"/>
<circle cx="445.99" cy="867.01" r="3.45" fill="none" stroke="#000" stroke-width="1.7"/>
<circle cx="496.26" cy="889.51" r="3.45" fill="none" stroke="#000" stroke-width="1.7"/>
<polygon points="94.10,743.44 98.10,746.84 94.10,750.24 90.10,746.84" fill="#000"/>
<polygon points="144.37,759.90 148.37,763.30 144.37,766.70 140.37,763.30" fill="#000"/>
<polygon points="194.64,747.10 198.64,750.50 194.64,753.90 190.64,750.50" fill="#000"/>
<polygon points="244.91,836.72 248.91,840.12 244.91,843.52 240.91,840.12" fill="#000"/>
<polygon points="295.18,870.93 299.18,874.33 295.18,877.73 291.18,874.33" fill="#000"/>
<polygon points="345.45,890.86 349.45,894.26 345.45,897.66 341.45,894.26" fill="#000"/>
<polygon points="395.72,893.43 399.72,896.83 395.72,900.23 391.72,896.83" fill="#000"/>
<polygon points="445.99,904.40 449.99,907.80 445.99,911.20 441.99,907.80" fill="#000"/>
<polygon points="496.26,886.11 500.26,889.51 496.26,892.91 492.26,889.51" fill="#000"/>
<polygon points="94.10,749.01 98.20,741.71 90.00,741.71" fill="#000"/>
<polygon points="144.37,760.90 148.47,753.60 140.27,753.60" fill="#000"/>
<polygon points="194.64,750.84 198.74,743.54 190.54,743.54" fill="#000"/>
<polygon points="244.91,813.03 249.01,805.73 240.81,805.73" fill="#000"/>
<polygon points="295.18,852.72 299.28,845.42 291.08,845.42" fill="#000"/>
<polygon points="345.45,870.65 349.55,863.35 341.35,863.35" fill="#000"/>
<polygon points="395.72,877.96 399.82,870.66 391.62,870.66" fill="#000"/>
<polygon points="445.99,884.00 450.09,876.70 441.89,876.70" fill="#000"/>
<polygon points="496.26,893.51 500.36,886.21 492.16,886.21" fill="#000"/>
<polygon points="94.10,739.18 98.20,746.48 90.00,746.48" fill="#000"/>
<polygon points="144.37,747.41 148.47,754.71 140.27,754.71" fill="#000"/>
<polygon points="194.64,739.18 198.74,746.48 190.54,746.48" fill="#000"/>
<polygon points="244.91,809.42 249.01,816.72 240.81,816.72" fill="#000"/>
<polygon points="295.18,868.13 299.28,875.43 291.08,875.43" fill="#000"/>
<polygon points="345.45,877.46 349.55,884.76 341.35,884.76" fill="#000"/>
<polygon points="395.72,882.95 399.82,890.25 391.62,890.25" fill="#000"/>
<polygon points="445.99,884.05 450.09,891.35 441.89,891.35" fill="#000"/>
<polygon points="496.26,885.51 500.36,892.81 492.16,892.81" fill="#000"/>
<rect x="90.20" y="737.45" width="7.80" height="7.80" fill="#000"/>
<rect x="140.47" y="741.66" width="7.80" height="7.80" fill="#000"/>
<rect x="190.74" y="736.54" width="7.80" height="7.80" fill="#000"/>
<rect x="241.01" y="802.39" width="7.80" height="7.80" fill="#000"/>
<rect x="291.28" y="853.97" width="7.80" height="7.80" fill="#000"/>
<rect x="341.55" y="861.83" width="7.80" height="7.80" fill="#000"/>
<rect x="391.82" y="871.89" width="7.80" height="7.80" fill="#000"/>
<rect x="442.09" y="872.99" width="7.80" height="7.80" fill="#000"/>
<rect x="492.36" y="885.61" width="7.80" height="7.80" fill="#000"/>
<circle cx="94.10" cy="721.60" r="3.90" fill="#000"/>
<circle cx="144.37" cy="727.82" r="3.90" fill="#000"/>
<circle cx="194.64" cy="723.43" r="3.90" fill="#000"/>
<circle cx="244.91" cy="765.13" r="3.90" fill="#000"/>
<circle cx="295.18" cy="827.87" r="3.90" fill="#000"/>
<circle cx="345.45" cy="854.21" r="3.90" fill="#000"/>
<circle cx="395.72" cy="860.43" r="3.90" fill="#000"/>
<circle cx="445.99" cy="888.96" r="3.90" fill="#000"/>
<circle cx="496.26" cy="888.96" r="3.90" fill="#000"/>
<line x1="543.5" y1="719.80" x2="565" y2="719.80" stroke="#000" stroke-width="2"/>
<circle cx="554.25" cy="719.80" r="4.00" fill="#000"/>
<text class="lg" x="577.9" y="725.80" font-size="16.8">MB</text>
<line x1="543.5" y1="747.13" x2="565" y2="747.13" stroke="#000" stroke-width="2"/>
<rect x="550.25" y="743.13" width="8.00" height="8.00" fill="#000"/>
<text class="lg" x="577.9" y="753.13" font-size="16.8">NMB</text>
<line x1="543.5" y1="774.46" x2="565" y2="774.46" stroke="#000" stroke-width="2"/>
<polygon points="554.25,770.46 558.35,777.76 550.15,777.76" fill="#000"/>
<text class="lg" x="577.9" y="780.46" font-size="16.8">TBO</text>
<line x1="543.5" y1="801.79" x2="565" y2="801.79" stroke="#000" stroke-width="2"/>
<polygon points="554.25,805.79 558.35,798.49 550.15,798.49" fill="#000"/>
<text class="lg" x="577.9" y="807.79" font-size="16.8">DMMB</text>
<line x1="543.5" y1="829.12" x2="565" y2="829.12" stroke="#000" stroke-width="2"/>
<polygon points="554.25,825.72 558.25,829.12 554.25,832.52 550.25,829.12" fill="#000"/>
<text class="lg" x="577.9" y="835.12" font-size="16.8">NR</text>
<line x1="543.5" y1="856.45" x2="565" y2="856.45" stroke="#000" stroke-width="2"/>
<circle cx="554.25" cy="856.45" r="3.45" fill="none" stroke="#000" stroke-width="1.7"/>
<text class="lg" x="577.9" y="862.45" font-size="16.8">MTT</text>
</svg>
</body></html>
